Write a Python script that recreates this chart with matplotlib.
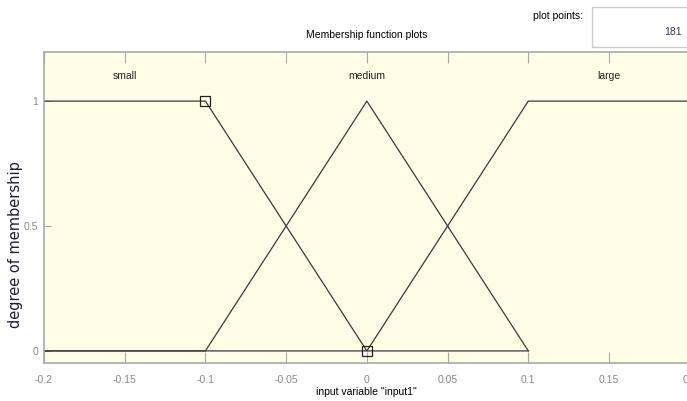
import numpy as np
import matplotlib.pyplot as plt
from matplotlib.patches import Rectangle
from matplotlib import font_manager

# membership functions (breakpoints)
small_x = [-0.2, -0.1, 0.0, 0.1]
small_y = [1, 1, 0, 0]
medium_x = [-0.2, -0.1, 0.0, 0.1]
medium_y = [0, 0, 1, 0]
large_x = [-0.2, 0.0, 0.1, 0.2]
large_y = [0, 0, 1, 1]
mf_names = ["small", "medium", "large"]
name_x = [-0.15, 0.0, 0.15]
xticks = [-0.2, -0.15, -0.1, -0.05, 0, 0.05, 0.1, 0.15, 0.2]
xtick_labels = ["-0.2", "-0.15", "-0.1", "-0.05", "0", "0.05", "0.1", "0.15", "0.2"]
yticks = [0, 0.5, 1]
ytick_labels = ["0", "0.5", "1"]

names = {f.name for f in font_manager.fontManager.ttflist}
narrow = "Liberation Sans Narrow" if "Liberation Sans Narrow" in names else "Liberation Sans"

fig = plt.figure(figsize=(6.87, 4.01), dpi=100, facecolor="white")
ax = fig.add_axes([0.064, 0.095, 0.94, 0.775])
ax.set_facecolor("#fefde6")

lc = "#3a3a3a"
ax.plot(small_x, small_y, color=lc, lw=0.9)
ax.plot(medium_x, medium_y, color=lc, lw=0.9)
ax.plot(large_x, large_y, color=lc, lw=0.9)
ax.plot([-0.1, 0.0], [1, 0], ls="none", marker="s", ms=7, mfc="none", mec="#222222", mew=0.9)

for n, xx in zip(mf_names, name_x):
    ax.text(xx, 1.1, n, ha="center", va="center", fontsize=7.5, family=narrow, color="#222222")

ax.set_xlim(-0.2, 0.2)
ax.set_ylim(-0.048, 1.196)
ax.set_xticks(xticks)
ax.set_xticklabels(xtick_labels, family=narrow, fontsize=7.5, color="#888888")
ax.set_yticks(yticks)
ax.set_yticklabels(ytick_labels, family=narrow, fontsize=7.5, color="#888888")
ax.tick_params(axis="x", direction="in", length=8, top=True, color="#aaaaaa", pad=9)
ax.tick_params(axis="y", direction="in", length=5, color="#aaaaaa", pad=4)
for s in ax.spines.values():
    s.set_color("#aaaaaa")
    s.set_linewidth(1.2)

ax.set_title("Membership function plots", fontsize=7.5, family=narrow, pad=10)
ax.set_xlabel('input variable "input1"', fontsize=7.5, family=narrow, labelpad=1)
fig.text(0.022, 0.39, "degree of membership", rotation=90, ha="center", va="center",
         fontsize=10.5, color="#1c1c3c", family="DejaVu Sans")

# plot points box
fig.text(0.849, 0.96, "plot points:", ha="right", va="center", fontsize=7.5, family=narrow)
fig.patches.append(Rectangle((0.862, 0.883), 0.145, 0.10, transform=fig.transFigure,
                             facecolor="white", edgecolor="#cccccc", lw=1))
fig.text(0.993, 0.92, "181", ha="right", va="center", fontsize=7.5, family=narrow, color="#4a2a5a")

fig.savefig("out.png", dpi=100)
